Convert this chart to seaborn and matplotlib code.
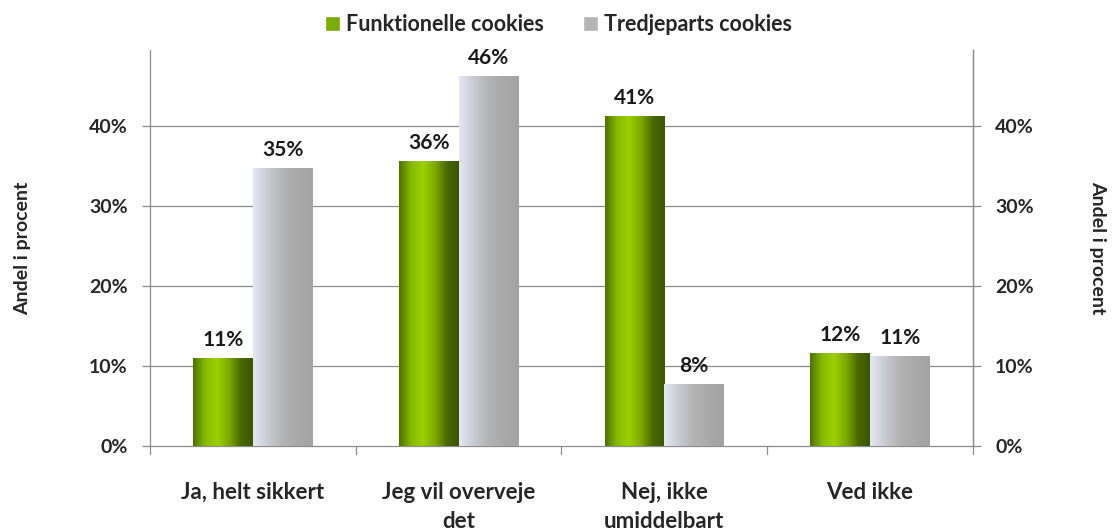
import matplotlib.pyplot as plt
import matplotlib.colors as mcolors
from matplotlib.patches import Patch
import seaborn as sns
import numpy as np
import pandas as pd

categories = ['Ja, helt sikkert', 'Jeg vil overveje\ndet', 'Nej, ikke\numiddelbart', 'Ved ikke']
funktionelle = [11.0, 35.6, 41.2, 11.6]
tredjeparts = [34.7, 46.3, 7.8, 11.3]
labels_f = ['11%', '36%', '41%', '12%']
labels_t = ['35%', '46%', '8%', '11%']
series = ['Funktionelle cookies', 'Tredjeparts cookies']
yticks = [0, 10, 20, 30, 40]

df = pd.DataFrame({
    'Kategori': categories * 2,
    'Andel': funktionelle + tredjeparts,
    'Serie': [series[0]] * 4 + [series[1]] * 4,
})

sns.set_theme(style='white')
plt.rcParams['font.family'] = ['Lato', 'DejaVu Sans']

fig = plt.figure(figsize=(11.17, 5.31), dpi=100)
ax = fig.add_axes([0.1343, 0.16, 0.7367, 0.746])

ax.set_axisbelow(True)
for y in yticks[1:]:
    ax.axhline(y, color='#8c8c8c', lw=0.9, zorder=0)

sns.barplot(data=df, x='Kategori', y='Andel', hue='Serie', ax=ax,
            palette=['#8cc000', '#b0b0b0'], width=0.58, gap=0,
            saturation=1, legend=False, zorder=2)

# gradient fill for the bars
green_cmap = mcolors.LinearSegmentedColormap.from_list(
    'g', ['#4f7300', '#86bb00', '#9bd000', '#7faa00', '#4a6a00', '#3c5500'])
gray_cmap = mcolors.LinearSegmentedColormap.from_list(
    'h', ['#e4e7f2', '#c8cad2', '#b3b3b3', '#a9a9a9', '#a3a3a3'])
grad = np.linspace(0, 1, 100).reshape(1, -1)
patches = list(ax.patches)
for i, p in enumerate(patches):
    cmap = green_cmap if i < 4 else gray_cmap
    x0, y0 = p.get_x(), p.get_y()
    w, h = p.get_width(), p.get_height()
    im = ax.imshow(grad, cmap=cmap, aspect='auto', extent=[x0, x0 + w, y0, y0 + h],
                   zorder=3, interpolation='bicubic')
    im.set_clip_path(p)
    p.set_alpha(0)

all_labels = labels_f + labels_t
for p, lab in zip(patches, all_labels):
    ax.text(p.get_x() + p.get_width() / 2, p.get_height() + 1.0, lab,
            ha='center', va='bottom', fontsize=15, fontweight='bold', color='#1a1a1a')

ax.set_xlim(-0.5, 3.5)
ax.set_ylim(0, 49.5)
ax.set_yticks(yticks)
ax.set_yticklabels([f'{t}%' for t in yticks], fontsize=14, fontweight='bold')
ax.set_xticks(range(4))
ax.set_xticklabels(categories, fontsize=16, fontweight='bold', linespacing=1.45)
ax.tick_params(axis='x', length=0, pad=26)
ax.tick_params(axis='y', length=6, width=0.9, color='#8c8c8c', direction='out', left=True, pad=10)
ax.set_xlabel('')
ax.set_ylabel('Andel i procent', fontsize=14, fontweight='bold', labelpad=42)

# category separators below the axis
for xb in [-0.5, 0.5, 1.5, 2.5, 3.5]:
    ax.plot([xb, xb], [0, -1.0], color='#8c8c8c', lw=0.9, clip_on=False)

ax.spines['top'].set_visible(False)
for side in ['left', 'right', 'bottom']:
    ax.spines[side].set_color('#8c8c8c')
    ax.spines[side].set_linewidth(0.9)

ax2 = ax.twinx()
ax2.set_ylim(0, 49.5)
ax2.set_yticks(yticks)
ax2.set_yticklabels([f'{t}%' for t in yticks], fontsize=14, fontweight='bold')
ax2.tick_params(axis='y', length=6, width=0.9, color='#8c8c8c', direction='out', right=True, pad=10)
ax2.set_ylabel('Andel i procent', fontsize=14, fontweight='bold', rotation=270, labelpad=52)
for side in ['top', 'left', 'bottom']:
    ax2.spines[side].set_visible(False)
ax2.spines['right'].set_color('#8c8c8c')
ax2.spines['right'].set_linewidth(0.9)

# legend
handles = [Patch(facecolor='#7aab00'), Patch(facecolor='#b5b5b5')]
fig.legend(handles, series, loc='upper center', bbox_to_anchor=(0.5, 1.01), ncol=2,
           frameon=False, handlelength=0.7, handleheight=0.7, handletextpad=0.3,
           columnspacing=1.8, prop={'size': 15.5, 'weight': 'bold'})

fig.savefig('out.png', dpi=100)
